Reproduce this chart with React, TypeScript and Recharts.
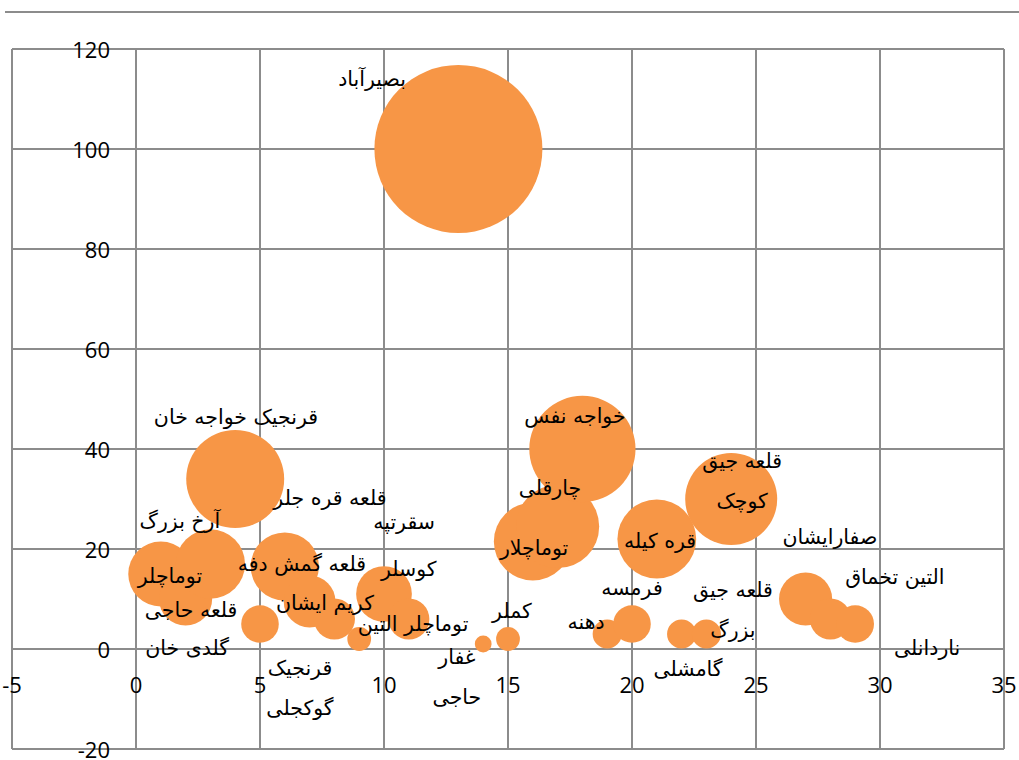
import React from "react";
import { ScatterChart, Scatter, XAxis, YAxis, ZAxis, CartesianGrid } from "recharts";

// ---- data ----
const xValues = [1, 2, 3, 4, 5, 6, 7, 8, 9, 10, 11, 13, 14, 15, 16, 17, 18, 19, 20, 21, 22, 23, 24, 27, 28, 29];
const yValues = [15, 10, 17, 34, 5, 16.5, 9.5, 6, 2, 11, 6, 100, 1, 2, 21.5, 24.5, 40, 3, 5, 22, 3, 3, 30, 10, 6, 5];

const xTicks = [-5, 0, 5, 10, 15, 20, 25, 30, 35];
const yTicks = [-20, 0, 20, 40, 60, 80, 100, 120];

// label texts and their anchor positions in data units
const labelTexts = [
  "بصیرآباد",
  "قرنجیک خواجه خان",
  "قلعه قره جلر",
  "آرخ بزرگ",
  "سقرتپه",
  "توماچلر",
  "قلعه گمش دفه",
  "کوسلر",
  "قلعه حاجی",
  "کریم ایشان",
  "توماچلر التین",
  "گلدی خان",
  "قرنجیک\nگوکجلی",
  "غفار\nحاجی",
  "کملر",
  "خواجه نفس",
  "چارقلی",
  "توماچلار",
  "قره کیله",
  "قلعه جیق\nکوچک",
  "صفارایشان",
  "قلعه جیق\nبزرگ",
  "التین تخماق",
  "فرمسه",
  "دهنه",
  "گامشلی",
  "ناردانلی",
];
const labelX = [9.52, 4.03, 7.82, 1.77, 10.81, 1.37, 6.69, 11.0, 2.22, 7.62, 11.17, 2.06, 6.61, 12.94, 15.16, 17.7, 16.69, 16.05, 21.13, 24.44, 27.98, 24.07, 30.6, 20.0, 18.15, 22.26, 31.9];
const labelY = [114.0, 46.4, 30.2, 25.6, 25.4, 14.6, 17.0, 16.0, 7.8, 9.2, 5.0, 0.2, -7.8, -5.5, 7.6, 46.6, 32.2, 20.2, 21.6, 33.7, 22.4, 7.9, 14.4, 12.2, 5.4, -4.0, 0.2];

const bubbles = xValues.map((x, i) => ({ x, y: yValues[i], z: yValues[i] }));
const labels = labelTexts.map((text, i) => ({ x: labelX[i], y: labelY[i], text }));

// ---- layout ----
const W = 1019;
const H = 760;
const M = { top: 49, right: 15, bottom: 10, left: 11 };
const PLOT_LEFT = M.left + 1;
const PLOT_TOP = M.top;
const PLOT_W = W - PLOT_LEFT - M.right;
const PLOT_H = H - M.top - M.bottom - 1;
const X_MIN = -5, X_MAX = 35, Y_MIN = -20, Y_MAX = 120;
const zeroX = PLOT_LEFT + ((0 - X_MIN) / (X_MAX - X_MIN)) * PLOT_W;
const zeroY = PLOT_TOP + ((Y_MAX - 0) / (Y_MAX - Y_MIN)) * PLOT_H;
const MAX_R = 84;

const BUBBLE = "#F79646";
const GRID = "#8c8c8c";
const TICK_FONT = "'Open Sans', 'DejaVu Sans', sans-serif";
const LABEL_FONT = "'DejaVu Sans', sans-serif";

const XTick = (props: any) => {
  const { x, payload } = props;
  return (
    <text x={x} y={zeroY + 35} textAnchor="middle" dominantBaseline="central" fontFamily={TICK_FONT} fontSize={22} fill="#000">
      {payload.value}
    </text>
  );
};

const YTick = (props: any) => {
  const { y, payload } = props;
  return (
    <text x={zeroX - 26} y={y} textAnchor="end" dominantBaseline="central" fontFamily={TICK_FONT} fontSize={22} fill="#000">
      {payload.value}
    </text>
  );
};

const LabelShape = (props: any) => {
  const { cx, cy, payload } = props;
  const lines: string[] = String(payload.text).split("\n");
  const lh = 40;
  const y0 = cy - ((lines.length - 1) * lh) / 2;
  return (
    <g>
      {lines.map((l, i) => (
        <text key={i} x={cx} y={y0 + i * lh} textAnchor="middle" dominantBaseline="central" fontFamily={LABEL_FONT} fontSize={20.5} fill="#000">
          {l}
        </text>
      ))}
    </g>
  );
};

export default function App() {
  return (
    <div style={{ position: "absolute", left: 0, top: 0, width: W, height: H, background: "#fff" }}>
      <div style={{ position: "absolute", left: 5, top: 11, width: W - 5, borderTop: `2px solid ${GRID}` }} />
      <ScatterChart width={W} height={H} margin={M}>
        <CartesianGrid stroke={GRID} strokeWidth={2} />
        <XAxis
          type="number"
          dataKey="x"
          domain={[X_MIN, X_MAX]}
          ticks={xTicks}
          height={1}
          axisLine={false}
          tickLine={false}
          tick={<XTick />}
          interval={0}
          allowDataOverflow
        />
        <YAxis
          type="number"
          dataKey="y"
          domain={[Y_MIN, Y_MAX]}
          ticks={yTicks}
          width={1}
          axisLine={false}
          tickLine={false}
          tick={<YTick />}
          interval={0}
          allowDataOverflow
        />
        <ZAxis type="number" dataKey="z" domain={[0, 100]} range={[0, Math.PI * MAX_R * MAX_R]} />
        <Scatter data={bubbles} fill={BUBBLE} shape="circle" isAnimationActive={false} />
        <Scatter data={labels} shape={<LabelShape />} isAnimationActive={false} />
      </ScatterChart>
    </div>
  );
}
